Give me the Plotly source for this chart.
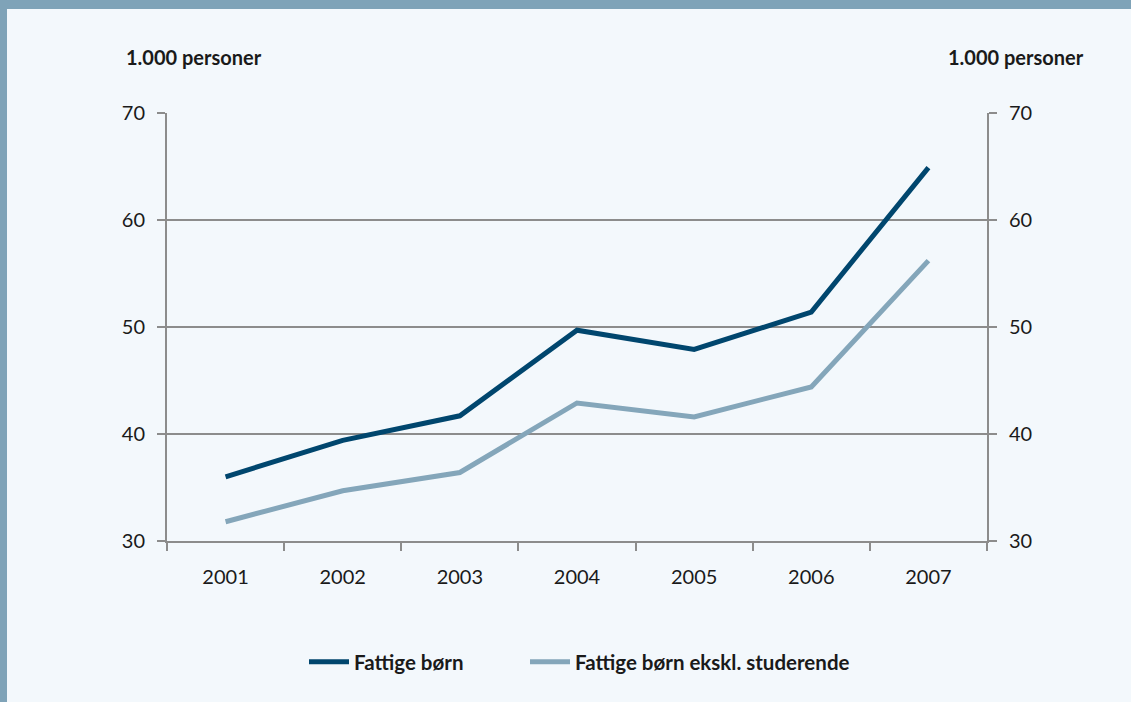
import plotly.graph_objects as go

# Data (1.000 personer)
years = ['2001', '2002', '2003', '2004', '2005', '2006', '2007']
fattige = [36.0, 39.4, 41.7, 49.7, 47.9, 51.4, 64.9]
fattige_ekskl = [31.8, 34.7, 36.4, 42.9, 41.6, 44.4, 56.2]
y_ticks = [30, 40, 50, 60, 70]

W, H = 1131, 702
L, R, T, B = 167, 987, 113, 541

def px_x(p):
	return (p - L) / (R - L)

def px_y(p):
	return (B - p) / (B - T)

dark = '#00466e'
light = '#84a6ba'
grid = '#8c8c8c'
bg = '#f3f8fc'
font = 'Lato, "Open Sans", sans-serif'

fig = go.Figure()
fig.add_trace(go.Scatter(x=years, y=fattige, mode='lines', name='Fattige børn',
	line=dict(color=dark, width=5), legend='legend'))
fig.add_trace(go.Scatter(x=years, y=fattige_ekskl, mode='lines', name='Fattige børn ekskl. studerende',
	line=dict(color=light, width=5), legend='legend2'))
# Invisible trace so the right axis is drawn
fig.add_trace(go.Scatter(x=years, y=fattige, yaxis='y2', mode='lines', showlegend=False,
	hoverinfo='skip', line=dict(width=0), opacity=0))

axis_font = dict(family=font, size=20, color='#1a1a1a')
leg_font = dict(family=font, size=20.5, color='#1a1a1a', weight='bold')

def legend_at(xp):
	return dict(orientation='h', x=px_x(xp), xanchor='left', y=px_y(662), yanchor='middle',
		font=leg_font, bgcolor='rgba(0,0,0,0)', itemwidth=40)

fig.update_layout(
	width=W, height=H,
	margin=dict(l=L, r=W - R, t=T, b=H - B),
	paper_bgcolor=bg, plot_bgcolor=bg,
	font=dict(family=font, color='#1a1a1a'),
	xaxis=dict(type='category', range=[-0.5, 6.5], tickson='boundaries',
		ticks='outside', ticklen=8, tickcolor=grid, tickwidth=2,
		showline=True, linecolor=grid, linewidth=2, showgrid=False,
		tickfont=axis_font, zeroline=False, ticklabelstandoff=17),
	yaxis=dict(range=[30, 70], tickvals=y_ticks, ticks='outside', ticklen=8,
		tickcolor=grid, tickwidth=2, showline=True, linecolor=grid, linewidth=2,
		showgrid=True, gridcolor=grid, gridwidth=2, zeroline=False,
		tickfont=axis_font, ticklabelstandoff=8),
	yaxis2=dict(range=[30, 70], tickvals=y_ticks, overlaying='y', side='right',
		ticks='outside', ticklen=8, tickcolor=grid, tickwidth=2, showline=True,
		linecolor=grid, linewidth=2, showgrid=False, zeroline=False,
		tickfont=axis_font, ticklabelstandoff=8),
	legend=legend_at(304),
	legend2=legend_at(525),
	showlegend=True,
)

# Unit labels above the axes
for xp in [194, 1016]:
	fig.add_annotation(x=px_x(xp), y=px_y(57), xref='paper', yref='paper',
		xanchor='center', yanchor='middle',
		text='<b>1.000 personer</b>', showarrow=False,
		font=dict(family=font, size=20, color='#1a1a1a'))

# Frame: top bar and left strip
fig.add_shape(type='rect', xref='paper', yref='paper', x0=px_x(0), x1=px_x(W),
	y0=px_y(9), y1=px_y(0), fillcolor='#7fa3b8', line_width=0, layer='above')
fig.add_shape(type='rect', xref='paper', yref='paper', x0=px_x(0), x1=px_x(7),
	y0=px_y(H), y1=px_y(9), fillcolor='#7fa3b8', line_width=0, layer='above')

fig.write_html("out.html", config={'displayModeBar': False},
	post_script="document.body.style.margin='0';")
